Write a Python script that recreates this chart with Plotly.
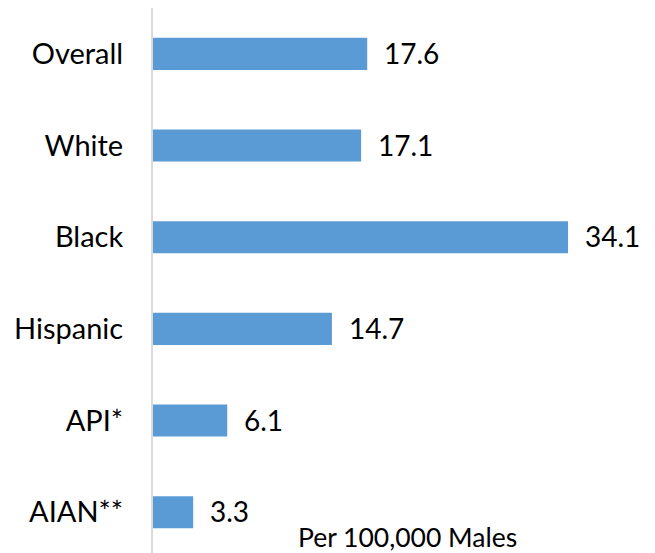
import plotly.graph_objects as go

categories = ["Overall", "White", "Black", "Hispanic", "API*", "AIAN**"]
values = [17.6, 17.1, 34.1, 14.7, 6.1, 3.3]
value_labels = ["17.6", "17.1", "34.1", "14.7", "6.1", "3.3"]
note_text = "Per 100,000 Males"

FONT = "Lato, Carlito, Calibri, sans-serif"
BAR_COLOR = "#5B9BD5"

fig = go.Figure()
fig.add_trace(go.Bar(
    x=values, y=categories, orientation="h",
    marker=dict(color=BAR_COLOR, line=dict(width=0)),
    width=0.35, hoverinfo="skip",
))

for v, c, t in zip(values, categories, value_labels):
    fig.add_annotation(x=v, y=c, text=t, showarrow=False, xanchor="left",
                       yanchor="middle", xshift=15, yshift=1,
                       font=dict(family=FONT, size=28, color="#000000"))

fig.add_annotation(x=0.508, y=0.038, xref="paper", yref="paper", text=note_text,
                   showarrow=False, xanchor="center", yanchor="middle",
                   font=dict(family=FONT, size=26.5, color="#000000"))

fig.update_layout(
    width=655, height=553,
    margin=dict(l=145, r=10, t=0, b=3),
    paper_bgcolor="white", plot_bgcolor="white",
    showlegend=False,
    xaxis=dict(range=[0, 41.08], visible=False, showgrid=False, zeroline=False),
    yaxis=dict(
        categoryorder="array", categoryarray=categories,
        range=[5.5, -0.5],
        showline=True, linecolor="#D9D9D9", linewidth=2,
        showgrid=False, zeroline=False, ticks="",
        ticklabelstandoff=22,
        tickfont=dict(family=FONT, size=29, color="#000000"),
    ),
)

fig.write_html("out.html")
